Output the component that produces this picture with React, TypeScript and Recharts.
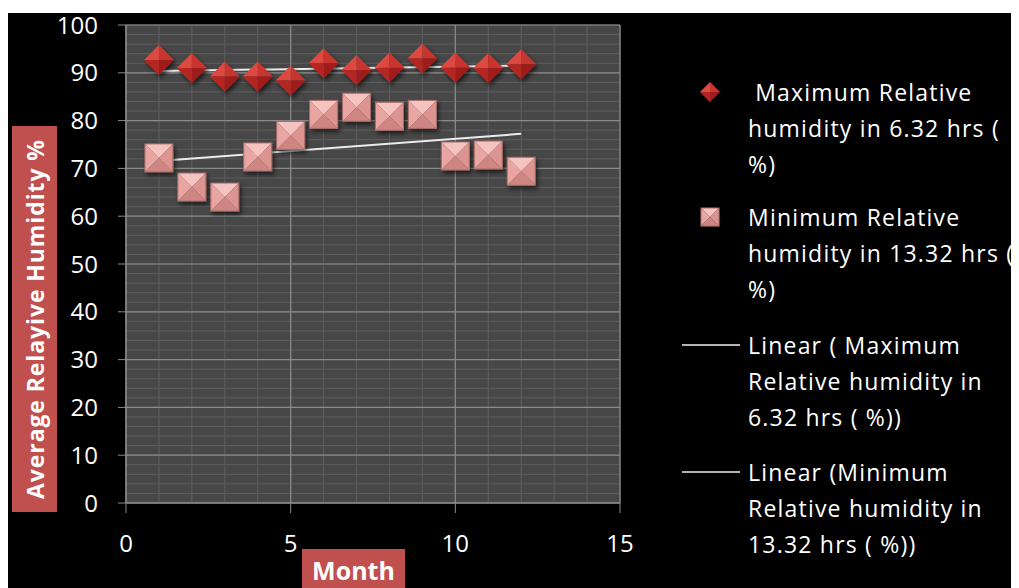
import React from 'react'
import { ScatterChart, Scatter, XAxis, YAxis, CartesianGrid } from 'recharts'

const months = [1, 2, 3, 4, 5, 6, 7, 8, 9, 10, 11, 12]
const maxRH = [92.7, 91.0, 89.2, 89.2, 88.4, 92.0, 90.6, 91.1, 93.0, 91.1, 91.0, 91.8]
const minRH = [72.2, 66.1, 64.0, 72.4, 76.9, 81.3, 82.8, 80.9, 81.3, 72.6, 72.8, 69.4]

const xTicks = [0, 5, 10, 15]
const yTicks = [0, 10, 20, 30, 40, 50, 60, 70, 80, 90, 100]
const xMinor = Array.from({ length: 16 }, (_, i) => i)
const yMinor = Array.from({ length: 51 }, (_, i) => i * 2)

const legendNames = [
    ' Maximum Relative humidity in 6.32 hrs ( %)',
    'Minimum Relative humidity in 13.32 hrs ( %)',
    'Linear ( Maximum Relative humidity in 6.32 hrs ( %))',
    'Linear (Minimum Relative humidity in 13.32 hrs ( %))',
]
const legendLines = [
    [' Maximum Relative', 'humidity in 6.32 hrs (', '%)'],
    ['Minimum Relative', 'humidity in 13.32 hrs (', '%)'],
    ['Linear ( Maximum', 'Relative humidity in', '6.32 hrs ( %))'],
    ['Linear (Minimum', 'Relative humidity in', '13.32 hrs ( %))'],
]

// least squares trendline, like excel's "Linear (...)"
function trend(xs: number[], ys: number[]) {
    const n = xs.length
    const mx = xs.reduce((a, b) => a + b, 0) / n
    const my = ys.reduce((a, b) => a + b, 0) / n
    let num = 0, den = 0
    xs.forEach((x, i) => { num += (x - mx) * (ys[i] - my); den += (x - mx) * (x - mx) })
    const k = num / den
    const x0 = xs[0], x1 = xs[n - 1]
    return [{ x: x0, y: my + k * (x0 - mx) }, { x: x1, y: my + k * (x1 - mx) }]
}

const maxData = months.map((m, i) => ({ x: m, y: maxRH[i] }))
const minData = months.map((m, i) => ({ x: m, y: minRH[i] }))
const maxTrend = trend(months, maxRH)
const minTrend = trend(months, minRH)

const FONT = '"Open Sans", sans-serif'

function Diamond({ cx, cy, h = 15 }: any) {
    if (cx == null || cy == null) return null
    const T = `${cx},${cy - h}`, R = `${cx + h},${cy}`, B = `${cx},${cy + h}`, L = `${cx - h},${cy}`, C = `${cx},${cy}`
    return (
        <g filter="url(#mkShadow)">
            <polygon points={`${T} ${L} ${C}`} fill="#dc4a40" />
            <polygon points={`${T} ${R} ${C}`} fill="#c8352e" />
            <polygon points={`${R} ${B} ${C}`} fill="#9e1f1a" />
            <polygon points={`${B} ${L} ${C}`} fill="#b42823" />
        </g>
    )
}

function Pyramid({ cx, cy, h = 14 }: any) {
    if (cx == null || cy == null) return null
    const TL = `${cx - h},${cy - h}`, TR = `${cx + h},${cy - h}`, BR = `${cx + h},${cy + h}`, BL = `${cx - h},${cy + h}`, C = `${cx},${cy}`
    return (
        <g filter="url(#mkShadow)">
            <polygon points={`${TL} ${TR} ${C}`} fill="#f6c4c0" />
            <polygon points={`${TL} ${BL} ${C}`} fill="#e9a5a1" />
            <polygon points={`${TR} ${BR} ${C}`} fill="#dc9490" />
            <polygon points={`${BL} ${BR} ${C}`} fill="#cd8682" />
            <rect x={cx - h} y={cy - h} width={h * 2} height={h * 2} fill="none" stroke="#a86e6a" strokeWidth={1} />
        </g>
    )
}

const noDot = () => <g />

function LegendBox() {
    const tops = [66, 191, 319, 446]
    return (
        <>
            {legendLines.map((lines, i) => (
                <div key={legendNames[i]} style={{ position: 'absolute', left: 672, top: tops[i], width: 339, overflow: 'hidden' }}>
                    <svg width={62} height={36} style={{ position: 'absolute', left: 0, top: 0 }}>
                        {i === 0 && <Diamond cx={30} cy={18} h={10} />}
                        {i === 1 && <Pyramid cx={30} cy={18} h={9} />}
                        {i > 1 && <line x1={2} x2={60} y1={18} y2={18} stroke="#f0f0f0" strokeWidth={1.5} />}
                    </svg>
                    <div style={{ marginLeft: 68, color: '#fff', fontFamily: FONT, fontSize: 23, lineHeight: '36px', letterSpacing: 1.2, whiteSpace: 'pre' }}>
                        {lines.map((t) => <div key={t}>{t}</div>)}
                    </div>
                </div>
            ))}
        </>
    )
}

export default function App() {
    return (
        <div style={{ position: 'relative', width: 1011, height: 580, background: 'linear-gradient(#fff 0px, #fff 5px, #000 5px)' }}>
            <ScatterChart width={1011} height={580} margin={{ top: 17, right: 399, bottom: 25, left: 58 }}>
                <defs>
                    <filter id="mkShadow" x="-50%" y="-50%" width="200%" height="200%">
                        <feDropShadow dx="2" dy="3" stdDeviation="2" floodColor="#000" floodOpacity="0.6" />
                    </filter>
                </defs>
                <CartesianGrid fill="#474747" stroke="#5e5e5e" strokeWidth={1}
                    horizontalValues={yMinor} verticalValues={xMinor} />
                <CartesianGrid stroke="#8a8a8a" strokeWidth={1.2}
                    horizontalValues={yTicks} verticalValues={xTicks} />
                <XAxis type="number" dataKey="x" domain={[0, 15]} ticks={xTicks} interval={0}
                    stroke="#8c8c8c" tickSize={10} tickMargin={22} height={60}
                    tick={{ fill: '#fff', fontSize: 24, fontFamily: FONT }} />
                <YAxis type="number" dataKey="y" domain={[0, 100]} ticks={yTicks} interval={0}
                    stroke="#8c8c8c" tickSize={8} tickMargin={20} width={60}
                    tick={{ fill: '#fff', fontSize: 24, fontFamily: FONT }} />
                <Scatter name={legendNames[2]} data={maxTrend} line={{ stroke: '#ececec', strokeWidth: 2 }} shape={noDot} isAnimationActive={false} />
                <Scatter name={legendNames[3]} data={minTrend} line={{ stroke: '#ececec', strokeWidth: 2 }} shape={noDot} isAnimationActive={false} />
                <Scatter name={legendNames[1]} data={minData} shape={(p: any) => <Pyramid cx={p.cx} cy={p.cy} />} isAnimationActive={false} />
                <Scatter name={legendNames[0]} data={maxData} shape={(p: any) => <Diamond cx={p.cx} cy={p.cy} />} isAnimationActive={false} />
            </ScatterChart>

            <div style={{ position: 'absolute', left: 4, top: 118, width: 45, height: 386, background: '#c0504d', display: 'flex', alignItems: 'center', justifyContent: 'center' }}>
                <div style={{ transform: 'rotate(-90deg)', whiteSpace: 'nowrap', color: '#fff', fontFamily: FONT, fontWeight: 700, fontSize: 23, letterSpacing: 0.9 }}>
                    Average Relayive Humidity %
                </div>
            </div>
            <div style={{ position: 'absolute', left: 294, top: 541, width: 103, height: 39, background: '#c0504d', color: '#fff', fontFamily: FONT, fontWeight: 700, fontSize: 25, lineHeight: '42px', textAlign: 'center' }}>
                Month
            </div>

            <LegendBox />
        </div>
    )
}
